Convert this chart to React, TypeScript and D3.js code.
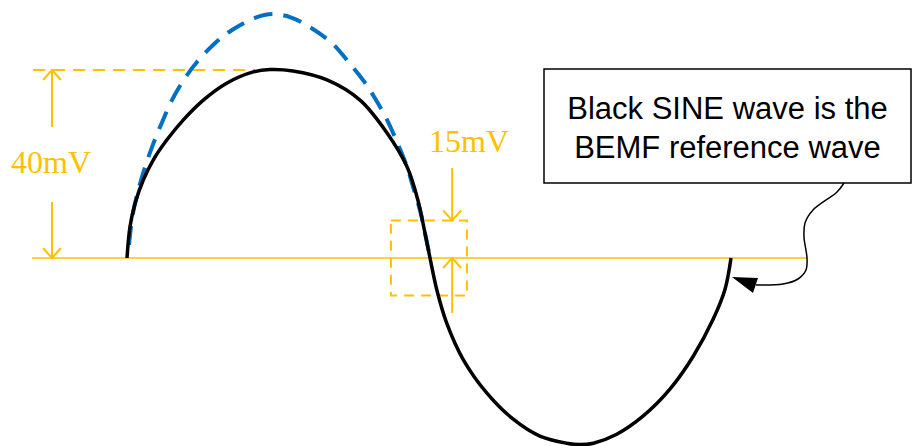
import React from 'react';
import * as d3 from 'd3';

// electrical angle (deg) and voltage (mV)
const BLACK_DEG = [0, 1.8, 4.8, 9.7, 15.7, 23.7, 33.6, 45.5, 59.4, 75.3, 85.2, 98.9, 119.2, 138.9, 155, 166.9,
  173.4, 177.6, 180.6, 184.6, 190.5, 200.4, 214.4, 230.2, 246.1, 262, 270, 278, 291.9, 307.7, 323.6, 337.5, 349.4,
  356.4, 360];
const BLACK_MV = [0, 6.7, 11.6, 16.6, 20.9, 25.1, 29.4, 33.6, 37.2, 39.6, 40.1, 39.8, 37.9, 33.6, 26.6, 19.4,
  12.3, 5.3, 0, -6.7, -13.8, -21.6, -28.7, -34.3, -37.9, -39.4, -39.7, -39.4, -37.5, -33.6, -27.9, -20.9, -13,
  -6.7, 0];

const BLUE_DEG = [1.2, 3.6, 8.9, 14.9, 20.9, 26.8, 34.6, 41.7, 52.4, 62.6, 76.3, 87, 98.3, 109.1, 122.2, 131.1,
  140.6, 147.8, 155, 160.9, 166.9, 170.5, 174.6, 177.6, 180.6];
const BLUE_MV = [2.8, 9.6, 17.2, 23.6, 28.9, 33.6, 38.3, 41.7, 45.7, 48.5, 51.1, 51.9, 51.1, 49.1, 45.7, 42.1,
  37.9, 34, 29.4, 24.7, 19.4, 15.1, 10.2, 5.3, 0.2];

const PEAK_LABEL = '40mV';
const PEAK_MV = 40;
const OFFSET_LABEL = '15mV';
const OFFSET_MV = 8;
const CALLOUT_LINES = ['Black SINE wave is the', 'BEMF reference wave'];

const W = 913, H = 446;
const YELLOW = '#FFC000';
const BLUE = '#0070C0';

export default function App() {
  const x = d3.scaleLinear().domain([0, 360]).range([127, 731]);
  const y = d3.scaleLinear().domain([-40, 40]).range([446, 70]);

  const line = d3.line<[number, number]>()
    .x(d => x(d[0]))
    .y(d => y(d[1]))
    .curve(d3.curveCatmullRom.alpha(0.5));

  const black = BLACK_DEG.map((d, i) => [d, BLACK_MV[i]] as [number, number]);
  const blue = BLUE_DEG.map((d, i) => [d, BLUE_MV[i]] as [number, number]);

  const y0 = y(0), yPeak = y(PEAK_MV);
  const ax = x(-44.7);
  const boxL = x(157.3), boxR = x(202.6);
  const boxT = y(OFFSET_MV), boxB = y(-OFFSET_MV);
  const arrowX = x(193.8);

  // open V arrowhead at (px,py) pointing up (dir=-1) or down (dir=1)
  const head = (px: number, py: number, dir: number) =>
    `M${px - 9},${py - dir * 10}L${px},${py}L${px + 9},${py - dir * 10}`;

  const connector = d3.line().curve(d3.curveCatmullRom.alpha(0.5))([
    [844, 183], [837, 192], [813, 210], [805, 223], [804, 237], [807, 258],
    [806, 270], [798, 279], [783, 284], [756, 285],
  ]);

  const serif = "'Liberation Serif', 'Times New Roman', serif";

  return (
    <svg width={W} height={H} style={{ position: 'absolute', left: 0, top: 0, background: '#fff' }}>
      {/* zero line */}
      <line x1={x(-56.6)} x2={x(405.3)} y1={y0} y2={y0} stroke={YELLOW} strokeWidth={1.5} />
      {/* peak reference */}
      <line x1={x(-56)} x2={x(76.3)} y1={yPeak} y2={yPeak} stroke={YELLOW} strokeWidth={2} strokeDasharray="12 8" />

      {/* 40mV dimension */}
      <line x1={ax} x2={ax} y1={yPeak} y2={127} stroke={YELLOW} strokeWidth={2} />
      <path d={head(ax, yPeak, -1)} fill="none" stroke={YELLOW} strokeWidth={2} />
      <line x1={ax} x2={ax} y1={202} y2={y0} stroke={YELLOW} strokeWidth={2} />
      <path d={head(ax, y0, 1)} fill="none" stroke={YELLOW} strokeWidth={2} />
      <text x={11} y={173} fill={YELLOW} fontFamily={serif} fontSize={32}>{PEAK_LABEL}</text>

      {/* 15mV offset */}
      <rect x={boxL} y={boxT} width={boxR - boxL} height={boxB - boxT} fill="none" stroke={YELLOW} strokeWidth={2} strokeDasharray="10 7" />
      <line x1={arrowX} x2={arrowX} y1={168} y2={boxT} stroke={YELLOW} strokeWidth={2} />
      <path d={head(arrowX, boxT, 1)} fill="none" stroke={YELLOW} strokeWidth={2} />
      <line x1={arrowX} x2={arrowX} y1={313} y2={y0} stroke={YELLOW} strokeWidth={2} />
      <path d={head(arrowX, y0, -1)} fill="none" stroke={YELLOW} strokeWidth={2} />
      <text x={429} y={152} fill={YELLOW} fontFamily={serif} fontSize={32}>{OFFSET_LABEL}</text>

      {/* waves */}
      <path d={line(blue) || ''} fill="none" stroke={BLUE} strokeWidth={4} strokeDasharray="19 11" />
      <path d={line(black) || ''} fill="none" stroke="#000" strokeWidth={3.5} />

      {/* callout */}
      <rect x={544} y={69} width={367} height={114} fill="#fff" stroke="#000" strokeWidth={1.5} />
      {CALLOUT_LINES.map((t, i) => (
        <text key={i} x={727.5} y={119 + i * 39} textAnchor="middle" fill="#000"
          fontFamily="'Liberation Sans', Arial, sans-serif" fontSize={31}>{t}</text>
      ))}
      <path d={connector || ''} fill="none" stroke="#000" strokeWidth={1.5} />
      <polygon points="732,277 758,278 753,293" fill="#000" />
    </svg>
  );
}
